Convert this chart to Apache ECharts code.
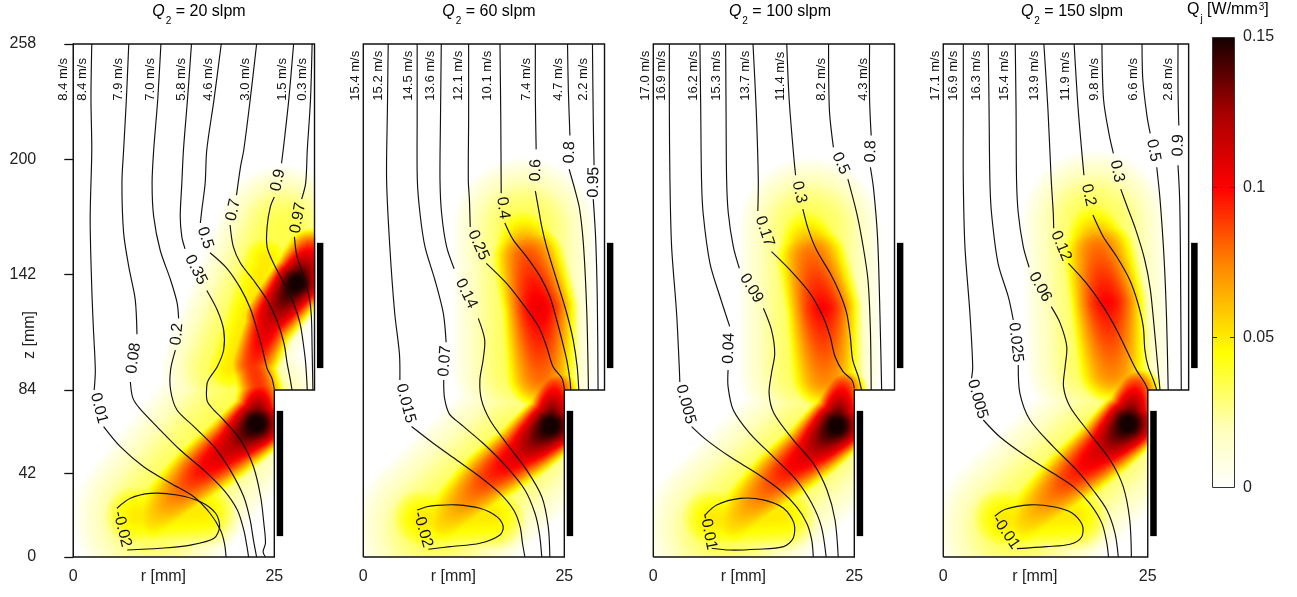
<!DOCTYPE html>
<html>
<head>
<meta charset="utf-8">
<script src="https://cdn.jsdelivr.net/npm/echarts@6/dist/echarts.min.js"></script>
<style>
html,body{margin:0;padding:0;background:#fff;}
#chart{width:1297px;height:597px;}
</style>
</head>
<body>
<div id="chart"></div>
<script>
// ---------------- data (r and z in mm) ----------------
const panelTitles = ['20', '60', '100', '150'];           // Q2 in slpm
const zTickValues = [0, 42, 84, 142, 200, 258];
const xTickValues = [0, 11.2, 25];
const xTickLabels = ['0', 'r [mm]', '25'];
const colorbarTicks = [0, 0.05, 0.1, 0.15];
const colorbarMax = 0.15;
const boxOutline = [[0, 0], [0, 258], [30, 258], [30, 84], [25, 84], [25, 0], [0, 0]];
// electrodes: [rInner, rOuter, zBottom, zTop]
const electrodes = [[30.3, 31.1, 95, 158], [25.3, 26.1, 10.5, 73.5]];
const velLabelZ = 229.5;

// axial velocity labels: [r, text]
const vel_20 = [[-1.2, '8.4 m/s'], [1.1, '8.4 m/s'], [5.6, '7.9 m/s'], [9.6, '7.0 m/s'], [13.5, '5.8 m/s'], [16.8, '4.6 m/s'], [21.4, '3.0 m/s'], [26.0, '1.5 m/s'], [28.5, '0.3 m/s']];
const vel_60 = [[-1.0, '15.4 m/s'], [1.87, '15.2 m/s'], [5.6, '14.5 m/s'], [8.3, '13.6 m/s'], [11.8, '12.1 m/s'], [15.5, '10.1 m/s'], [20.3, '7.4 m/s'], [24.3, '4.7 m/s'], [27.4, '2.2 m/s']];
const vel_100 = [[-1.03, '17.0 m/s'], [1.04, '16.9 m/s'], [5.0, '16.2 m/s'], [7.9, '15.3 m/s'], [11.4, '13.7 m/s'], [15.8, '11.4 m/s'], [20.9, '8.2 m/s'], [26.1, '4.3 m/s']];
const vel_150 = [[-1.0, '17.1 m/s'], [1.2, '16.9 m/s'], [4.1, '16.3 m/s'], [7.5, '15.4 m/s'], [11.2, '13.9 m/s'], [14.9, '11.9 m/s'], [18.5, '9.8 m/s'], [23.2, '6.6 m/s'], [27.5, '2.8 m/s']];

// stream-function contours: points [r, z]; null marks the gap where the label sits
const contours_20 = [
  {v: '0.01', pts: [[2.3,258],[2.2,230],[2.3,204.7],[2.1,170],[2.3,135],[2.5,115],[2.74,94.1],[2.6,84],null,[3.77,65.6],[5.85,55.5],[8.75,45.4],[12.1,37.1],[15.0,30.3],[17.0,22.0],[18.3,13.6],[18.8,6.9],[19.0,0]]},
  {v: '0.08', pts: [[6.9,258],[6.6,230],[6.26,204.7],[6.05,188],[6.26,163],[6.9,146],[7.7,129.6],[7.92,112],null,[7.1,88],[7.4,80],[8.2,75],[10.4,65.6],[13.3,53.8],[16.2,43.8],[18.7,33.7],[20.4,23.6],[21.2,13.6],[21.6,5.2],[21.8,0]]},
  {v: '0.2', pts: [[10.9,258],[10.5,230],[10.0,204.7],[9.8,188],[10.0,171.2],[10.8,154.4],[12.1,139.3],[12.9,128],[13.1,120],null,[12.7,104],[12.1,94.1],[12.1,84],[12.9,73.9],[15.0,65.6],[17.5,55.5],[19.5,43.8],[21.2,30.3],[22.0,18.6],[22.4,8.6],[22.8,0]]},
  {v: '0.35', pts: [[14.7,258],[14.2,230],[13.7,204.7],[13.5,188],[13.3,171.2],[13.5,161],[13.9,155],null,[16.6,134],[17.9,124.2],[18.7,114.2],[18.7,104.1],[17.9,95.7],[16.8,89],[16.6,86],[16.7,78],[18.7,68.9],[20.8,58.9],[22.4,45.5],[23.3,30.3],[23.7,16.9],[23.9,6.9],[23.6,2.7],[23.9,0]]},
  {v: '0.5', pts: [[18.4,258],[17.5,230],[16.6,204.7],[16.4,188],[16.0,175],[15.8,168],null,[17.0,153],[19.1,145.2],[20.8,135.1],[22.0,125.1],[22.8,115],[23.5,104.9],[24.1,94.9],[24.7,89.9],[25.0,84.5]]},
  {v: '0.7', pts: [[22.8,258],[22.0,230],[21.2,204.7],[20.8,196.3],[20.3,182],null,[19.5,167],[19.9,156.1],[20.8,147.7],[22.4,139.3],[24.1,129.3],[25.3,119.2],[26.2,107.5],[26.6,97.4],[27.0,89],[27.2,84]]},
  {v: '0.9', pts: [[27.4,258],[26.8,230],[26.2,208],[25.9,198],null,[25.0,181],[24.5,176],[24.1,166],[24.1,156],[24.9,147.7],[26.2,137.7],[27.4,127.6],[28.2,117.5],[28.6,107.5],[28.9,97.4],[29.1,84]]},
  {v: '0.97', pts: [[29.7,258],[29.5,230],[29.1,204.7],[28.9,188],[28.4,180],null,[27.5,161],[27.8,151.6],[28.6,141.7],[29.3,131.6],[29.6,121.6],[29.7,104.9],[29.8,84]]},
  {v: '-0.02', pts: [[5.43,24.5],[7.1,29.5],[9.6,32.0],[12.9,31.2],[15.8,27.8],[17.7,22.0],[18.2,15.3],[17.5,9.4],[14.6,6.0],[10.8,4.4],[6.7,3.5],null,[5.43,24.5]]}
];
const contours_60 = [
  {v: '0.015', pts: [[3.1,258],[3.0,225],[2.9,189.6],[3.3,156],[3.9,123],[4.5,102],[4.55,89],null,[6.0,65.6],[8.7,57.2],[11.6,48.8],[14.5,40.4],[17.0,32.0],[18.7,23.6],[19.5,15.3],[19.8,6.9],[20.1,0]]},
  {v: '0.07', pts: [[6.7,258],[6.7,220],[6.72,189.6],[7.05,172.9],[7.67,156.1],[8.91,139.3],[9.95,122.6],[10.3,108],null,[10.0,89],[10.1,80],[10.7,72],[12.0,67.2],[14.9,57.2],[17.8,45.4],[20.1,33.7],[21.35,22],[21.9,11.9],[22.2,0]]},
  {v: '0.14', pts: [[9.7,258],[9.6,220],[9.54,189.6],[9.74,172.9],[10.36,156.1],[11.3,145],null,[14.3,120],[15.1,109.2],[14.9,99.1],[14.5,89],[14.7,79],[15.75,68.9],[17.8,57.2],[20.3,43.8],[22.2,30.3],[23.0,15.3],[23.2,0]]},
  {v: '0.25', pts: [[13.1,258],[13.1,220],[13.06,189.6],[13.2,179.6],[13.3,166],null,[15.3,147.7],[17.8,137.7],[20.1,125.9],[21.8,115.9],[22.8,105.8],[23.6,95.7],[24.7,89.9],[25.0,84.5]]},
  {v: '0.4', pts: [[17.0,258],[17.1,220],[17.15,183],null,[17.6,168],[18.65,159.5],[20.3,151.1],[22.0,141],[23.2,131],[24.05,119.2],[24.7,109.2],[25.3,99.1],[25.7,89],[25.8,84]]},
  {v: '0.6', pts: [[21.4,258],[21.4,230],[21.5,205],null,[21.4,184],[21.8,175],[22.2,166],[22.8,156],[24.05,139.3],[25.3,122.6],[26.1,109.2],[26.6,95.7],[26.8,84]]},
  {v: '0.8', pts: [[25.4,258],[25.5,235],[25.7,212],null,[25.6,195],[26.3,185],[26.9,175],[27.4,156],[27.8,122.6],[28.0,84]]},
  {v: '0.95', pts: [[28.5,258],[28.6,220],[28.7,197],null,[28.6,180],[28.9,160],[29.1,130],[29.2,84]]},
  {v: '-0.02', pts: [[6.7,23.6],[7.9,25.3],[9.2,26.0],[11.6,26.2],[14.5,24.5],[16.6,20.3],[17.4,15.3],[17.0,11.1],[14.5,6.9],[10.8,5.2],[8.1,3.9],null,[6.7,23.6]]}
];
const contours_100 = [
  {v: '0.005', pts: [[2.0,258],[2.0,225],[2.07,189.6],[2.28,156.1],[2.9,122.6],[3.23,95.7],[3.3,88],null,[4.77,65.6],[6.6,58.9],[9.5,50.5],[12.85,42.1],[15.75,33.7],[17.8,25.3],[19.1,16.9],[19.7,8.6],[19.9,0]]},
  {v: '0.04', pts: [[5.8,258],[5.9,225],[6.0,189.6],[6.2,172.9],[7.05,147.7],[8.3,130.9],[9.5,116],null,[9.3,94],[9.3,85.7],[9.95,73.9],[12.0,62.2],[14.9,50.5],[17.8,38.7],[19.7,27.0],[20.9,15.3],[21.5,0]]},
  {v: '0.09', pts: [[9.0,258],[9.05,225],[9.12,189.6],[9.33,172.9],[9.95,156.1],[10.7,145.2],null,[13.7,125.1],[14.7,114.2],[15.1,102.4],[14.7,92.4],[14.4,82.3],[15.0,72.3],[17.4,58.9],[19.9,47.1],[21.6,33.7],[22.6,18.6],[23.0,0]]},
  {v: '0.17', pts: [[12.4,258],[12.8,225],[13.06,189.6],[13.0,174],null,[14.7,153.6],[17.0,144.4],[19.5,132.6],[21.1,120.9],[22.0,110.8],[22.6,100.8],[23.6,93.2],[24.7,89.0],[25.0,84.8]]},
  {v: '0.3', pts: [[16.6,258],[16.9,230],[17.5,200],[17.7,192],null,[18.6,175],[19.3,164.5],[20.3,154.4],[22.0,142.7],[23.2,132.6],[24.05,122.6],[24.5,110.8],[24.8,99.1],[25.5,90.7],[25.9,84]]},
  {v: '0.5', pts: [[21.8,258],[21.9,225],[22.4,206],null,[24.2,190],[25.3,172.9],[26.1,156.1],[26.7,139.3],[27.0,114.2],[27.1,84]]},
  {v: '0.8', pts: [[26.9,258],[26.9,230],[27.1,212],null,[27.0,196],[27.4,185],[27.9,160],[28.2,120],[28.4,84]]},
  {v: '-0.01', pts: [[6.43,21.1],[7.88,26.2],[10.8,29.5],[13.7,28.7],[16.2,24.5],[17.5,16.9],[17.4,9.4],[16.2,5.2],[12.85,3.9],[9.54,3.5],[7.26,4.4],null,[6.43,21.1]]}
];
const contours_150 = [
  {v: '0.005', pts: [[2.45,258],[2.45,225],[2.45,189.6],[2.65,156.1],[3.26,122.6],[3.6,95.7],[3.46,89.9],null,[4.9,68.9],[6.9,60.5],[10.2,50.5],[13.45,42.1],[15.9,35.4],[17.9,27.0],[19.4,16.9],[20.0,6.9],[20.2,0]]},
  {v: '0.025', pts: [[5.5,258],[5.6,225],[5.7,189.6],[5.9,172.9],[6.7,147.7],[7.95,130.9],[8.56,119.2],null,[9.17,96.6],[9.37,82.3],[10.6,68.9],[13.45,55.5],[16.3,43.8],[18.3,33.7],[20.0,23.6],[21.0,11.9],[21.4,0]]},
  {v: '0.06', pts: [[8.8,258],[8.9,225],[8.96,189.6],[9.17,172.9],[9.78,156.1],[10.5,145.7],null,[13.2,125.9],[14.3,117.5],[15.1,105.8],[14.9,95.7],[14.7,85.7],[15.5,75.6],[17.9,62.2],[20.4,48.8],[22.0,35.4],[22.8,18.6],[23.0,0]]},
  {v: '0.12', pts: [[12.3,258],[12.8,225],[13.2,189.6],[13.45,172.9],[13.5,165.3],null,[15.3,147.7],[17.5,137.7],[19.56,125.9],[21.2,114.2],[22.4,104.1],[23.6,94.1],[24.65,87.4],[25.0,84.2]]},
  {v: '0.2', pts: [[16.0,258],[16.5,225],[17.2,192],null,[18.3,172],[19.56,161.1],[21.2,151.1],[22.8,139.3],[23.8,127.6],[24.45,115.9],[24.65,104.1],[25.06,95.7],[25.7,89.0],[26.1,84.0]]},
  {v: '0.3', pts: [[19.4,258],[19.6,230],[20.3,212],[20.8,203],null,[21.7,185],[22.5,176],[23.5,165],[24.6,150],[25.3,135],[25.8,115],[26.2,97],[26.5,84]]},
  {v: '0.5', pts: [[24.3,258],[24.4,240],[24.9,222],[25.3,213],null,[26.1,196],[26.5,180],[27.0,150],[27.3,120],[27.5,84]]},
  {v: '0.9', pts: [[28.7,258],[28.7,235],[28.8,217],null,[28.7,197],[28.9,180],[29.0,150],[29.1,84]]},
  {v: '-0.01', pts: [[6.3,20.5],[7.6,24.0],[10.6,26.2],[13.45,25.3],[15.7,22.3],[17.0,16.1],[16.9,9.9],[15.5,6.4],[12.6,5.2],[9.0,4.2],null,[6.3,20.5]]}
];

// Joule heating zones, as bands along a segment:
// [r1, z1, r2, z2, peak at start, peak at end (W/mm3), half-width in r-mm]
const heat_20 = [
  [10, 20, 21, 75, 0.035, 0.035, 10], [19, 95, 26, 165, 0.035, 0.035, 8], [19.5, 95, 24, 150, 0.05, 0.05, 4.5],
  [8, 21, 16, 23, 0.05, 0.05, 5.5],
  [10, 20, 15.5, 42, 0.055, 0.095, 4.5], [15.5, 42, 20, 57, 0.095, 0.12, 4.5], [20, 57, 22.8, 67, 0.12, 0.155, 4.5],
  [22.8, 67, 23.2, 84, 0.155, 0.09, 3.5],
  [23.2, 84, 22.3, 97, 0.09, 0.09, 3.5], [22.3, 97, 24.5, 120, 0.09, 0.115, 3.8], [24.5, 120, 27.8, 138, 0.115, 0.155, 4.2],
  [27.8, 138, 29.5, 152, 0.155, 0.1, 4]
];
const heat_60 = [
  [9, 15, 20, 58, 0.035, 0.035, 10], [20, 95, 20, 165, 0.035, 0.035, 9], [7.5, 19, 16, 21, 0.05, 0.05, 5.5],
  [10, 18, 15.5, 40, 0.055, 0.09, 4.5], [15.5, 40, 20, 54, 0.09, 0.115, 4.5], [20, 54, 23.3, 66, 0.115, 0.155, 4.5],
  [23.3, 66, 23.8, 84, 0.155, 0.095, 3.5],
  [22, 92, 21.8, 125, 0.08, 0.105, 5.5], [21.8, 125, 20.5, 150, 0.105, 0.085, 5.5], [20.5, 150, 19.8, 164, 0.085, 0.045, 5]
];
const heat_100 = [
  [9, 15, 20, 58, 0.035, 0.035, 10], [19.5, 95, 19.5, 165, 0.035, 0.035, 9], [7.5, 19, 16, 21, 0.05, 0.05, 5.5],
  [10, 18, 15.5, 40, 0.055, 0.09, 4.5], [15.5, 40, 19.8, 54, 0.09, 0.115, 4.5], [19.8, 54, 22.8, 66, 0.115, 0.155, 4.5],
  [22.8, 66, 23.5, 84, 0.155, 0.095, 3.5],
  [21.3, 92, 21, 125, 0.075, 0.1, 5.5], [21, 125, 19.7, 150, 0.1, 0.08, 5.5], [19.7, 150, 19, 164, 0.08, 0.045, 5]
];
const heat_150 = [
  [9, 15, 20, 58, 0.035, 0.035, 10], [19, 98, 18.5, 168, 0.035, 0.035, 9], [7.5, 19, 16, 21, 0.05, 0.05, 5.5],
  [10, 18, 15.5, 40, 0.055, 0.09, 4.5], [15.5, 40, 19.7, 55, 0.09, 0.115, 4.5], [19.7, 55, 22.6, 67, 0.115, 0.155, 4.5],
  [22.6, 67, 23.5, 84, 0.155, 0.095, 3.5],
  [20.6, 95, 20, 128, 0.075, 0.1, 5.5], [20, 128, 19, 153, 0.1, 0.08, 5.5], [19, 153, 18.3, 167, 0.08, 0.045, 5]
];

// ---------------- styling / rendering ----------------
const FONT = '"Liberation Sans", Arial, Helvetica, sans-serif';
const INK = '#111';
// colour map (value -> rgb), monotone per channel: white -> yellow -> red -> black
const cmapStops = [
  [0, [255, 255, 255]], [0.02, [255, 255, 185]], [0.045, [255, 255, 0]], [0.06, [255, 195, 0]],
  [0.075, [255, 130, 0]], [0.1, [255, 0, 0]], [0.125, [165, 0, 0]], [0.15, [20, 0, 0]]
];
function cmap(v) {
  if (v <= cmapStops[0][0]) return rgb(cmapStops[0][1]);
  for (let i = 1; i < cmapStops.length; i++) {
    if (v <= cmapStops[i][0]) {
      const a = cmapStops[i - 1], b = cmapStops[i];
      const t = (v - a[0]) / (b[0] - a[0]);
      return rgb(a[1].map((c, k) => c + (b[1][k] - c) * t));
    }
  }
  return rgb(cmapStops[cmapStops.length - 1][1]);
}
function rgb(c) { return 'rgb(' + c.map(x => Math.round(x)).join(',') + ')'; }

// heat field: each band painted with a round soft brush into an offscreen canvas using
// per-channel minimum (= maximum value, since the colour map is monotone per channel)
function paintZone(ctx, api, ux, h) {
  const a = api.coord([h[0], h[1]]), b = api.coord([h[2], h[3]]);
  const len = Math.hypot(b[0] - a[0], b[1] - a[1]);
  const n = Math.max(1, Math.ceil(len / 1.5));
  const R = h[6] * ux;
  for (let i = 0; i <= n; i++) {
    const s = i / n;
    const x = a[0] + (b[0] - a[0]) * s, y = a[1] + (b[1] - a[1]) * s;
    const p = h[4] + (h[5] - h[4]) * s;
    const g = ctx.createRadialGradient(x, y, 0, x, y, R);
    for (let k = 0; k <= 12; k++) {
      const t = k / 12;
      g.addColorStop(t, cmap(p * (1 - t * t)));
    }
    ctx.fillStyle = g;
    ctx.beginPath();
    ctx.arc(x, y, R, 0, Math.PI * 2);
    ctx.fill();
  }
}
function heatRender(list) {
  return function (params, api) {
    const tl = api.coord([0, 258]), br = api.coord([30, 0]);
    const W = Math.ceil(br[0] - tl[0]) + 1, H = Math.ceil(br[1] - tl[1]) + 1;
    const cv = document.createElement('canvas');
    cv.width = W; cv.height = H;
    const ctx = cv.getContext('2d');
    ctx.translate(-tl[0], -tl[1]);
    ctx.beginPath();
    boxOutline.forEach((p, k) => { const c = api.coord(p); if (k) ctx.lineTo(c[0], c[1]); else ctx.moveTo(c[0], c[1]); });
    ctx.closePath();
    ctx.fillStyle = '#ffffff';
    ctx.fill();
    ctx.clip();
    ctx.globalCompositeOperation = 'darken';
    const ux = api.size([1, 0])[0];
    list.forEach(h => paintZone(ctx, api, ux, h));
    return {type: 'image', style: {image: cv, x: tl[0], y: tl[1], width: W, height: H}};
  };
}
function contourRender(list) {
  return function (params, api) {
    const ct = list[params.dataIndex];
    const segs = [];
    let cur = [], gapA = null, gapB = null;
    ct.pts.forEach((p, k) => {
      if (p === null) {
        if (!gapA) { gapA = ct.pts[k - 1]; gapB = ct.pts[k + 1]; }
        segs.push(cur); cur = [];
      } else cur.push(api.coord(p));
    });
    segs.push(cur);
    const children = segs.filter(s => s.length > 1).map(s => ({
      type: 'polyline', shape: {points: s, smooth: 0.3},
      style: {stroke: INK, lineWidth: 1.15, fill: null}
    }));
    if (gapA) {
      const a = api.coord(gapA), b = api.coord(gapB);
      let ang = Math.atan2(-(b[1] - a[1]), b[0] - a[0]);
      if (ang > Math.PI / 2) ang -= Math.PI;
      if (ang < -Math.PI / 2) ang += Math.PI;
      children.push({
        type: 'text', x: (a[0] + b[0]) / 2, y: (a[1] + b[1]) / 2, rotation: ang,
        style: {text: ct.v, font: '16px ' + FONT, fill: INK, align: 'center', verticalAlign: 'middle'}
      });
    }
    return {type: 'group', children: children};
  };
}
function velRender(list) {
  return function (params, api) {
    const v = list[params.dataIndex];
    const c = api.coord([v[0], velLabelZ]);
    return {
      type: 'text', x: c[0], y: c[1], rotation: Math.PI / 2,
      style: {text: v[1], font: '13px ' + FONT, fill: INK, align: 'left', verticalAlign: 'middle'}
    };
  };
}
function frameRender(params, api) {
  const children = [{
    type: 'polyline', shape: {points: boxOutline.map(p => api.coord(p))},
    style: {stroke: INK, lineWidth: 1.4, fill: null}
  }];
  electrodes.forEach(e => {
    const a = api.coord([e[0], e[3]]), b = api.coord([e[1], e[2]]);
    children.push({type: 'rect', shape: {x: a[0], y: a[1], width: b[0] - a[0], height: b[1] - a[1]}, style: {fill: '#000'}});
  });
  return {type: 'group', children: children};
}

const panels = [
  {title: panelTitles[0], contours: contours_20, heat: heat_20, vel: vel_20},
  {title: panelTitles[1], contours: contours_60, heat: heat_60, vel: vel_60},
  {title: panelTitles[2], contours: contours_100, heat: heat_100, vel: vel_100},
  {title: panelTitles[3], contours: contours_150, heat: heat_150, vel: vel_150}
];
const gridLeft = [57.2, 347.2, 637.2, 926.9];
const gridWidth = [273.4, 273.4, 273.4, 278.1];
const titleX = [199, 489, 780, 1072];

const grid = [], xAxis = [], yAxis = [], series = [], graphic = [];
const labelStyle = {fontSize: 16, fontFamily: FONT, color: '#222'};

panels.forEach((p, i) => {
  grid.push({left: gridLeft[i], top: 44, width: gridWidth[i], height: 513});
  xAxis.push({
    type: 'value', gridIndex: i, min: -2, max: 32,
    axisLine: {show: false}, axisTick: {show: false}, splitLine: {show: false},
    axisLabel: Object.assign({customValues: xTickValues, margin: 12,
      formatter: v => { const k = xTickValues.indexOf(v); return k >= 0 ? xTickLabels[k] : ''; }}, labelStyle)
  });
  if (i === 0) {
    yAxis.push({
      type: 'value', gridIndex: i, min: 0, max: 258, position: 'left',
      axisLine: {show: true, lineStyle: {color: INK, width: 1.3}},
      axisTick: {show: true, customValues: zTickValues, length: 9, lineStyle: {color: INK, width: 1.3}},
      axisLabel: Object.assign({customValues: zTickValues, margin: 21}, labelStyle),
      splitLine: {show: false}
    });
  } else {
    yAxis.push({type: 'value', gridIndex: i, min: 0, max: 258, show: false});
  }
  series.push({
    type: 'custom', name: 'heat' + i, xAxisIndex: i, yAxisIndex: i, z: 1, silent: true,
    data: [[0, 0]], renderItem: heatRender(p.heat)
  });
  series.push({
    type: 'custom', name: 'contours' + i, xAxisIndex: i, yAxisIndex: i, z: 2, silent: true,
    data: p.contours.map(c => c.pts[0]), renderItem: contourRender(p.contours)
  });
  series.push({
    type: 'custom', name: 'velocity' + i, xAxisIndex: i, yAxisIndex: i, z: 2, silent: true,
    data: p.vel.map(v => [v[0], velLabelZ]), renderItem: velRender(p.vel)
  });
  series.push({
    type: 'custom', name: 'frame' + i, xAxisIndex: i, yAxisIndex: i, z: 3, silent: true,
    data: [boxOutline[0]], renderItem: frameRender
  });
  graphic.push({
    type: 'text', x: titleX[i], y: 4,
    style: {
      text: '{q|Q}{s|2}{t| = ' + p.title + ' slpm}', align: 'center', verticalAlign: 'top',
      rich: {
        q: {fontSize: 16, fontStyle: 'italic', fontFamily: FONT, color: INK, lineHeight: 18, verticalAlign: 'top'},
        s: {fontSize: 10, fontFamily: FONT, color: INK, lineHeight: 10, padding: [12, 0, 0, 1], verticalAlign: 'top'},
        t: {fontSize: 16, fontFamily: FONT, color: INK, lineHeight: 18, verticalAlign: 'top'}
      }
    }
  });
});

// colour bar
grid.push({left: 1212, top: 37, width: 23, height: 451});
xAxis.push({type: 'category', gridIndex: 4, data: ['Qj'], show: false});
yAxis.push({
  type: 'value', gridIndex: 4, min: 0, max: colorbarMax, position: 'right',
  axisLine: {show: false}, axisTick: {show: false}, splitLine: {show: false},
  axisLabel: Object.assign({customValues: colorbarTicks, margin: 8, formatter: v => String(+v.toFixed(2))}, labelStyle)
});
series.push({
  type: 'bar', xAxisIndex: 4, yAxisIndex: 4, data: [colorbarMax], barWidth: '100%', silent: true,
  itemStyle: {
    color: new echarts.graphic.LinearGradient(0, 1, 0, 0,
      cmapStops.map(s => ({offset: s[0] / colorbarMax, color: rgb(s[1])}))),
    borderColor: '#333', borderWidth: 1
  },
  markLine: {
    silent: true, symbol: 'none', label: {show: false},
    lineStyle: {color: '#333', width: 1, type: [5, 13]},
    data: [{yAxis: 0.05}, {yAxis: 0.1}]
  }
});

graphic.push({
  type: 'text', x: 30, y: 335, rotation: Math.PI / 2,
  style: {text: 'z [mm]', font: '16px ' + FONT, fill: '#222', align: 'center', verticalAlign: 'middle'}
});
graphic.push({
  type: 'text', x: 1187, y: 2,
  style: {
    text: '{q|Q}{j|j}{t| [W/mm}{p|3}{t|]}', align: 'left', verticalAlign: 'top',
    rich: {
      q: {fontSize: 16, fontFamily: FONT, color: INK, lineHeight: 18, verticalAlign: 'top'},
      j: {fontSize: 10, fontFamily: FONT, color: INK, lineHeight: 10, padding: [12, 0, 0, 1], verticalAlign: 'top'},
      t: {fontSize: 16, fontFamily: FONT, color: INK, lineHeight: 18, verticalAlign: 'top'},
      p: {fontSize: 10, fontFamily: FONT, color: INK, lineHeight: 10, padding: [0, 0, 0, 1], verticalAlign: 'top'}
    }
  }
});

const chart = echarts.init(document.getElementById('chart'), null, {renderer: 'canvas'});
chart.setOption({
  backgroundColor: '#ffffff',
  animation: false,
  grid: grid, xAxis: xAxis, yAxis: yAxis, series: series, graphic: graphic
});
</script>
</body>
</html>
